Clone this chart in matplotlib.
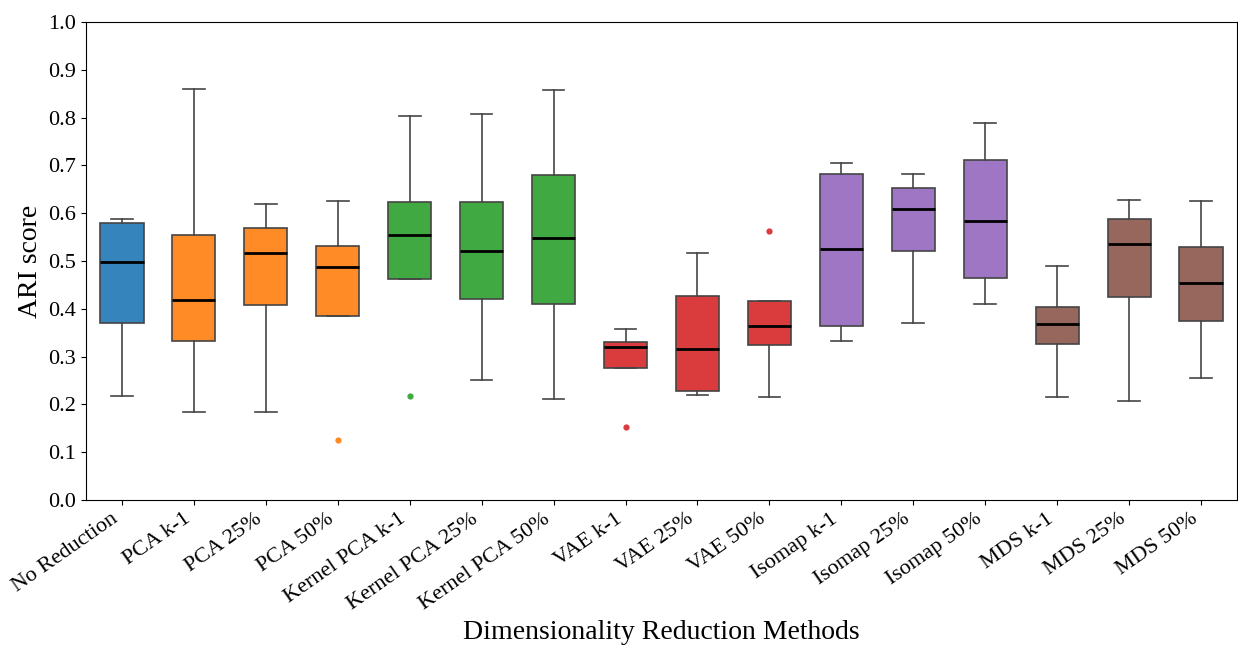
import numpy as np
import matplotlib
matplotlib.use("Agg")
from matplotlib import pyplot as plt
from matplotlib.colors import to_rgba

plt.rcParams["font.family"] = ["Liberation Serif", "DejaVu Serif"]

methods = [
    "No Reduction", "PCA k-1", "PCA 25%", "PCA 50%",
    "Kernel PCA k-1", "Kernel PCA 25%", "Kernel PCA 50%",
    "VAE k-1", "VAE 25%", "VAE 50%",
    "Isomap k-1", "Isomap 25%", "Isomap 50%",
    "MDS k-1", "MDS 25%", "MDS 50%",
]
groups = ["none", "pca", "pca", "pca", "kpca", "kpca", "kpca",
          "vae", "vae", "vae", "iso", "iso", "iso", "mds", "mds", "mds"]

# box statistics
whislo = [0.218, 0.185, 0.185, 0.385, 0.463, 0.251, 0.211, 0.277,
          0.220, 0.216, 0.333, 0.370, 0.411, 0.216, 0.208, 0.255]
q1 = [0.370, 0.333, 0.408, 0.385, 0.463, 0.421, 0.410, 0.277,
      0.227, 0.324, 0.365, 0.521, 0.465, 0.326, 0.424, 0.374]
med = [0.498, 0.418, 0.517, 0.487, 0.554, 0.521, 0.549, 0.321,
       0.315, 0.363, 0.525, 0.608, 0.584, 0.369, 0.535, 0.455]
q3 = [0.579, 0.555, 0.570, 0.532, 0.623, 0.624, 0.680, 0.331,
      0.427, 0.416, 0.682, 0.653, 0.711, 0.404, 0.587, 0.530]
whishi = [0.588, 0.860, 0.619, 0.626, 0.803, 0.807, 0.858, 0.358,
          0.516, 0.416, 0.704, 0.682, 0.789, 0.4895, 0.628, 0.626]
outliers = [[], [], [], [0.1255], [0.2176], [], [], [0.153],
            [], [0.563], [], [], [], [], [], []]

group_colors = {
    "none": "tab:blue", "pca": "tab:orange", "kpca": "tab:green",
    "vae": "tab:red", "iso": "tab:purple", "mds": "tab:brown",
}


def main():
    stats = []
    for i, name in enumerate(methods):
        stats.append({
            "label": name, "whislo": whislo[i], "q1": q1[i], "med": med[i],
            "q3": q3[i], "whishi": whishi[i], "fliers": outliers[i],
        })

    fig = plt.figure(figsize=(12.38, 6.47), dpi=100)
    ax = fig.add_axes([86 / 1238, 147 / 647, 1151 / 1238, 478 / 647])

    edge = "#454545"
    bp = ax.bxp(
        stats, positions=np.arange(len(methods)), widths=0.6,
        patch_artist=True, showfliers=True,
        boxprops=dict(edgecolor=edge, linewidth=1.2),
        whiskerprops=dict(color=edge, linewidth=1.2),
        capprops=dict(color=edge, linewidth=1.2),
        medianprops=dict(color="black", linewidth=2),
    )
    for i, box in enumerate(bp["boxes"]):
        c = to_rgba(group_colors[groups[i]], 0.9)
        box.set_facecolor(c)
        fl = bp["fliers"][i]
        fl.set_marker("o")
        fl.set_markerfacecolor(c)
        fl.set_markeredgecolor("none")
        fl.set_markersize(4.5)

    ax.set_xlim(-0.5, len(methods) - 0.5)
    ax.set_ylim(0, 1.0)
    ticks = np.arange(0, 1.01, 0.1)
    ax.set_yticks(ticks)
    ax.set_yticklabels(["{:.1f}".format(v) for v in ticks], fontsize=16)
    ax.set_xticks(np.arange(len(methods)))
    ax.set_xticklabels(methods, rotation=35, ha="right", fontsize=16)
    ax.set_xlabel("Dimensionality Reduction Methods", fontsize=20)
    ax.set_ylabel("ARI score", fontsize=20)

    fig.savefig("out.png", dpi=100)


if __name__ == "__main__":
    main()
